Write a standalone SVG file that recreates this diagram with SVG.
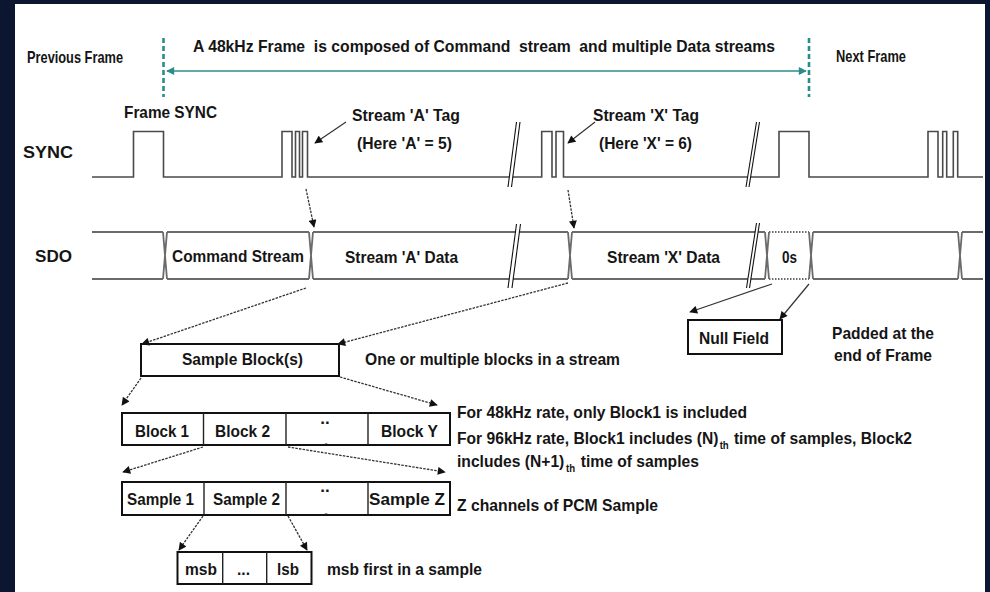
<svg xmlns="http://www.w3.org/2000/svg" width="990" height="592" viewBox="0 0 990 592">
<defs>
<style>
.t{font-family:"Liberation Sans",Arial,sans-serif;font-weight:bold;fill:#151515;font-size:17px;white-space:pre}
.wave{fill:none;stroke:#4a4a4a;stroke-width:1.6}
.bus{fill:none;stroke:#6a6a6a;stroke-width:1.8}
.box{fill:#fff;stroke:#111;stroke-width:2}
.div{stroke:#222;stroke-width:1.4}
.dash{fill:none;stroke:#333;stroke-width:1.3;stroke-dasharray:2.5,1.2}
.solid{fill:none;stroke:#333;stroke-width:1.2}
.teal{fill:none;stroke:#2b8c8c}
.brk{stroke:#111;stroke-width:1.1}
.sub{font-size:10.5px}
</style>
<marker id="ah" viewBox="0 0 10 10" refX="9" refY="5" markerWidth="9" markerHeight="8" markerUnits="userSpaceOnUse" orient="auto">
<path d="M0,0 L10,5 L0,10 z" fill="#111"/>
</marker>
<marker id="th" viewBox="0 0 10 10" refX="9" refY="5" markerWidth="9" markerHeight="8" markerUnits="userSpaceOnUse" orient="auto-start-reverse">
<path d="M0,0 L10,5 L0,10 z" fill="#2b8c8c"/>
</marker>
</defs>

<rect x="0" y="0" width="990" height="592" fill="#0d1630"/>
<rect x="15" y="4" width="970" height="588" fill="#ffffff"/>

<g id="frame-markers">
<line class="teal" x1="163.5" y1="38" x2="163.5" y2="97" stroke-width="2.6" stroke-dasharray="5,3"/>
<line class="teal" x1="809" y1="38" x2="809" y2="97" stroke-width="2.6" stroke-dasharray="5,3"/>
<line class="teal" x1="167" y1="71" x2="806" y2="71" stroke-width="1.6" marker-start="url(#th)" marker-end="url(#th)"/>
<text class="t" x="27" y="63" font-size="15" textLength="96" lengthAdjust="spacingAndGlyphs">Previous Frame</text>
<text class="t" x="193" y="52" font-size="16.5" textLength="582" lengthAdjust="spacingAndGlyphs">A 48kHz Frame  is composed of Command  stream  and multiple Data streams</text>
<text class="t" x="836" y="62" font-size="15" textLength="70" lengthAdjust="spacingAndGlyphs">Next Frame</text>
</g>

<g id="sync">
<text class="t" x="23" y="158" font-size="22" textLength="50" lengthAdjust="spacingAndGlyphs">SYNC</text>
<text class="t" x="124" y="118" textLength="93" lengthAdjust="spacingAndGlyphs">Frame SYNC</text>
<path class="wave" d="M92,177 H133.5 V131.5 H163.5 V177 H282 V131.5 H292 V177 H295.5 V131.5 H299.5 V177 H302.5 V131.5 H307.5 V177 H541.7 V131.5 H552 V177 H556 V131.5 H563.5 V177 H779 V131.5 H809 V177 H928 V131.5 H938 V177 H942.7 V131.5 H946.7 V177 H953.3 V131.5 H957.7 V177 H983"/>
<polygon points="516.5,122 520,122 511.5,187 508,187" fill="#fff"/>
<line class="brk" x1="516.5" y1="122" x2="508" y2="187"/>
<line class="brk" x1="520" y1="122" x2="511.5" y2="187"/>
<polygon points="756.5,122 759.5,122 749,187 746,187" fill="#fff"/>
<line class="brk" x1="756.5" y1="122" x2="746" y2="187"/>
<line class="brk" x1="759.5" y1="122" x2="749" y2="187"/>
<text class="t" x="352" y="121" textLength="108" lengthAdjust="spacingAndGlyphs">Stream 'A' Tag</text>
<text class="t" x="357" y="149" textLength="95" lengthAdjust="spacingAndGlyphs">(Here 'A' = 5)</text>
<text class="t" x="593" y="121" textLength="106" lengthAdjust="spacingAndGlyphs">Stream 'X' Tag</text>
<text class="t" x="599" y="149" textLength="93" lengthAdjust="spacingAndGlyphs">(Here 'X' = 6)</text>
</g>

<g id="sdo">
<text class="t" x="35" y="262" font-size="21" textLength="37" lengthAdjust="spacingAndGlyphs">SDO</text>
<path class="bus" d="M92,232 H163 M167,232 H309 M313,232 H568 M572,232 H765 M813,232 H958 M962,232 H983 M92,279 H163 M167,279 H309 M313,279 H568 M572,279 H765 M813,279 H958 M962,279 H983 M163,232 L167,279 M167,232 L163,279 M309,232 L313,279 M313,232 L309,279 M568,232 L572,279 M572,232 L568,279 M765,232 L769,279 M769,232 L765,279 M809,232 L813,279 M813,232 L809,279 M958,232 L962,279 M962,232 L958,279"/>
<path class="bus" d="M769,232 H809 M769,279 H809" stroke-dasharray="1.5,1.5" stroke-width="1.5"/>
<polygon points="516.5,224 520.5,224 512,288 508,288" fill="#fff"/>
<line class="brk" x1="516.5" y1="224" x2="508" y2="288"/>
<line class="brk" x1="520.5" y1="224" x2="512" y2="288"/>
<polygon points="756.5,223 759.5,223 749.5,288 746.5,288" fill="#fff"/>
<line class="brk" x1="756.5" y1="223" x2="746.5" y2="288"/>
<line class="brk" x1="759.5" y1="223" x2="749.5" y2="288"/>
<text class="t" x="172" y="262" textLength="132" lengthAdjust="spacingAndGlyphs">Command Stream</text>
<text class="t" x="345" y="263" textLength="113" lengthAdjust="spacingAndGlyphs">Stream 'A' Data</text>
<text class="t" x="607" y="263" textLength="113" lengthAdjust="spacingAndGlyphs">Stream 'X' Data</text>
<text class="t" x="782" y="263" textLength="15" lengthAdjust="spacingAndGlyphs">0s</text>
</g>

<g id="null-field">
<rect class="box" x="688" y="320" width="94" height="34"/>
<text class="t" x="699" y="344" textLength="70" lengthAdjust="spacingAndGlyphs">Null Field</text>
<text class="t" x="832" y="339" textLength="102" lengthAdjust="spacingAndGlyphs">Padded at the</text>
<text class="t" x="834" y="361" textLength="98" lengthAdjust="spacingAndGlyphs">end of Frame</text>
</g>

<g id="sample-block">
<rect class="box" x="141" y="344" width="198" height="32"/>
<text class="t" x="182" y="365" textLength="121" lengthAdjust="spacingAndGlyphs">Sample Block(s)</text>
<text class="t" x="365" y="365" textLength="255" lengthAdjust="spacingAndGlyphs">One or multiple blocks in a stream</text>
</g>

<g id="blocks">
<rect class="box" x="122" y="413" width="328" height="32"/>
<line class="div" x1="203.5" y1="413" x2="203.5" y2="445"/>
<line class="div" x1="286" y1="413" x2="286" y2="445"/>
<line class="div" x1="368" y1="413" x2="368" y2="445"/>
<text class="t" x="135" y="437" textLength="54" lengthAdjust="spacingAndGlyphs">Block 1</text>
<text class="t" x="215" y="437" textLength="55" lengthAdjust="spacingAndGlyphs">Block 2</text>
<text class="t" x="325" y="424" font-size="12" text-anchor="middle">..</text>
<text class="t" x="326" y="446" font-size="12" text-anchor="middle">.</text>
<text class="t" x="381" y="437" textLength="57" lengthAdjust="spacingAndGlyphs">Block Y</text>
<text class="t" x="457" y="418" textLength="290" lengthAdjust="spacingAndGlyphs">For 48kHz rate, only Block1 is included</text>
<text class="t" transform="translate(457,444) scale(0.92,1)"><tspan x="0" y="0">For 96kHz rate, Block1 includes (N)</tspan><tspan class="sub" x="285.5" y="5">th</tspan><tspan x="301" y="0">time of samples, Block2</tspan></text>
<text class="t" transform="translate(457,467) scale(0.92,1)"><tspan x="0" y="0">includes (N+1)</tspan><tspan class="sub" x="118.5" y="5">th</tspan><tspan x="134.5" y="0">time of samples</tspan></text>
</g>

<g id="samples">
<rect class="box" x="122" y="482" width="328" height="33"/>
<line class="div" x1="204" y1="482" x2="204" y2="515"/>
<line class="div" x1="286" y1="482" x2="286" y2="515"/>
<line class="div" x1="368" y1="482" x2="368" y2="515"/>
<text class="t" x="127" y="505" textLength="67" lengthAdjust="spacingAndGlyphs">Sample 1</text>
<text class="t" x="213" y="505" textLength="67" lengthAdjust="spacingAndGlyphs">Sample 2</text>
<text class="t" x="325" y="492" font-size="12" text-anchor="middle">..</text>
<text class="t" x="326" y="516" font-size="12" text-anchor="middle">.</text>
<text class="t" x="369" y="505" textLength="76" lengthAdjust="spacingAndGlyphs">Sample Z</text>
<text class="t" x="457" y="511" textLength="201" lengthAdjust="spacingAndGlyphs">Z channels of PCM Sample</text>
</g>

<g id="bits">
<rect class="box" x="177.5" y="552" width="134" height="32"/>
<line class="div" x1="222.7" y1="552" x2="222.7" y2="584"/>
<line class="div" x1="266.7" y1="552" x2="266.7" y2="584"/>
<text class="t" x="185" y="575" textLength="32" lengthAdjust="spacingAndGlyphs">msb</text>
<text class="t" x="237" y="575" textLength="13" lengthAdjust="spacingAndGlyphs">...</text>
<text class="t" x="277" y="575" textLength="22" lengthAdjust="spacingAndGlyphs">lsb</text>
<text class="t" x="327" y="575" textLength="155" lengthAdjust="spacingAndGlyphs">msb first in a sample</text>
</g>

<g id="connectors">
<line class="solid" x1="346" y1="122" x2="315" y2="143" marker-end="url(#ah)"/>
<line class="solid" x1="595" y1="122" x2="568" y2="143" marker-end="url(#ah)"/>
<line class="dash" x1="306" y1="189" x2="314" y2="227" marker-end="url(#ah)"/>
<line class="dash" x1="568" y1="190" x2="574" y2="228" marker-end="url(#ah)"/>
<line class="dash" x1="306" y1="288" x2="142" y2="344" marker-end="url(#ah)"/>
<line class="dash" x1="568" y1="283" x2="338" y2="344" marker-end="url(#ah)"/>
<line class="solid" x1="772" y1="284" x2="690" y2="312" marker-end="url(#ah)"/>
<line class="solid" x1="809" y1="284" x2="780" y2="319" marker-end="url(#ah)"/>
<line class="dash" x1="141" y1="378" x2="122" y2="405" marker-end="url(#ah)"/>
<line class="dash" x1="340" y1="377" x2="437" y2="405" marker-end="url(#ah)"/>
<line class="dash" x1="203" y1="447" x2="123" y2="472" marker-end="url(#ah)"/>
<line class="dash" x1="288" y1="447" x2="445" y2="472" marker-end="url(#ah)"/>
<line class="dash" x1="203" y1="516" x2="179" y2="550" marker-end="url(#ah)"/>
<line class="dash" x1="288" y1="516" x2="307" y2="550" marker-end="url(#ah)"/>
</g>
</svg>
